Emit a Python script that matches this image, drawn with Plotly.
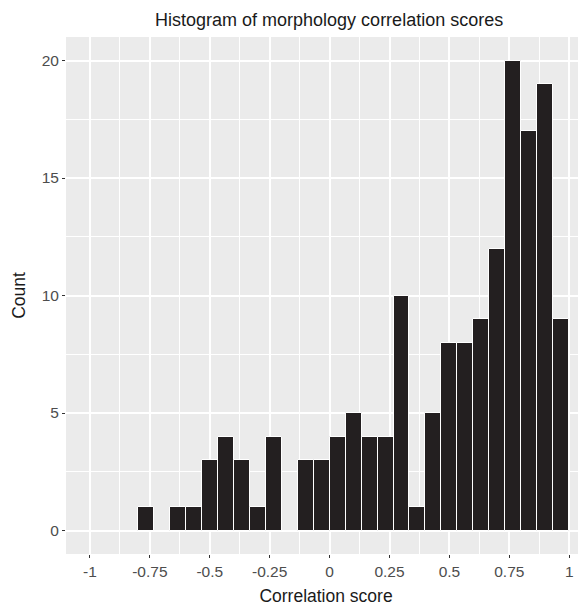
import plotly.graph_objects as go

# Histogram bins: 30 bins of width 1/15 spanning -1..1
bin_start = -1.0
bin_width = 1 / 15
counts = [0, 0, 0, 1, 0, 1, 1, 3, 4, 3,
          1, 4, 0, 3, 3, 4, 5, 4, 4, 10,
          1, 5, 8, 8, 9, 12, 20, 17, 19, 9]
bin_centers = [bin_start + (i + 0.5) * bin_width for i in range(len(counts))]

x_tickvals = [-1, -0.75, -0.5, -0.25, 0, 0.25, 0.5, 0.75, 1]
x_ticktext = ["-1", "-0.75", "-0.5", "-0.25", "0", "0.25", "0.5", "0.75", "1"]
y_tickvals = [0, 5, 10, 15, 20]
y_ticktext = ["0", "5", "10", "15", "20"]

title_text = "Histogram of morphology correlation scores"
x_title = "Correlation score"
y_title = "Count"

FONT = "Liberation Sans, Arial, Helvetica, sans-serif"

# page body has an 8px default margin; figure is sized to fill the rest
W, H = 578, 600

fig = go.Figure()
fig.add_trace(go.Bar(
    x=bin_centers,
    y=counts,
    width=bin_width,
    marker=dict(color="#231f20", line=dict(color="white", width=1)),
    hoverinfo="x+y",
))

fig.update_layout(
    width=W,
    height=H,
    margin=dict(l=58, r=0, t=29, b=54, autoexpand=False),
    paper_bgcolor="white",
    plot_bgcolor="#EBEBEB",
    showlegend=False,
    bargap=0,
    font=dict(family=FONT, color="#000000"),
    title=dict(
        text=title_text,
        x=0.506, xref="paper", xanchor="center",
        y=1 - 12 / H, yref="container", yanchor="middle",
        font=dict(size=18, color="#1a1a1a", family=FONT),
    ),
)

fig.update_xaxes(
    range=[-1.1, 1.07],
    automargin=False,
    tickmode="array",
    tickvals=x_tickvals,
    ticktext=x_ticktext,
    ticks="outside",
    ticklen=3,
    tickwidth=1,
    tickcolor="#333333",
    tickfont=dict(size=15.5, color="#4d4d4d", family=FONT),
    showgrid=True,
    gridcolor="white",
    gridwidth=1.6,
    zeroline=False,
    showline=False,
    minor=dict(dtick=0.125, tick0=-1.125, showgrid=True, gridcolor="white",
               gridwidth=0.8, ticks=""),
    title=dict(text=x_title, font=dict(size=17.5, color="#1a1a1a", family=FONT),
               standoff=11),
)

fig.update_yaxes(
    range=[-1, 21],
    automargin=False,
    tickmode="array",
    tickvals=y_tickvals,
    ticktext=y_ticktext,
    ticks="outside",
    ticklen=3,
    tickwidth=1,
    tickcolor="#333333",
    tickfont=dict(size=15.5, color="#4d4d4d", family=FONT),
    showgrid=True,
    gridcolor="white",
    gridwidth=1.6,
    zeroline=False,
    showline=False,
    minor=dict(dtick=2.5, tick0=-2.5, showgrid=True, gridcolor="white",
               gridwidth=0.8, ticks=""),
    title=dict(text=y_title, font=dict(size=17.5, color="#1a1a1a", family=FONT),
               standoff=11),
)

fig.write_html("out.html")
